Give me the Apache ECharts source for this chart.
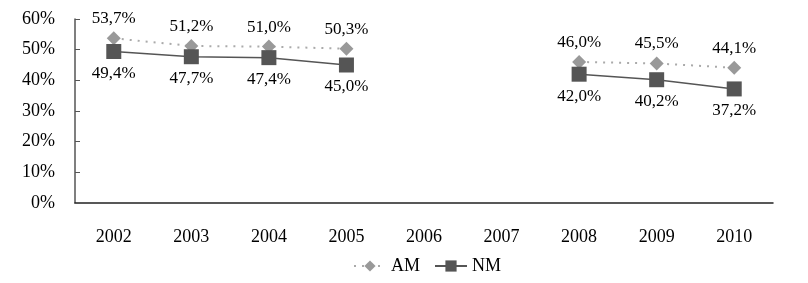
<!DOCTYPE html>
<html><head><meta charset="utf-8">
<script src="https://cdn.jsdelivr.net/npm/echarts@6/dist/echarts.min.js"></script>
<style>html,body{margin:0;padding:0;background:#fff}#c{width:808px;height:283px}</style>
</head><body><div id="c"></div>
<script>
const categories = ['2002','2003','2004','2005','2006','2007','2008','2009','2010'];
const amValues = [53.7, 51.2, 51.0, 50.3, null, null, 46.0, 45.5, 44.1];
const nmValues = [49.4, 47.7, 47.4, 45.0, null, null, 42.0, 40.2, 37.2];
const yTicks = [0, 10, 20, 30, 40, 50, 60];

const font = 'Liberation Serif, Times New Roman, serif';
const fmt = p => p.value == null ? '' : p.value.toFixed(1).replace('.', ',') + '%';
const chart = echarts.init(document.getElementById('c'));
chart.setOption({
  animation: false,
  textStyle: { fontFamily: font },
  grid: { left: 75, right: 35, top: 19, bottom: 80 },
  legend: {
    bottom: 3, left: 348, itemWidth: 32, itemHeight: 14, itemGap: 14,
    textStyle: { fontFamily: font, fontSize: 18, color: '#000' },
    data: ['AM', 'NM']
  },
  xAxis: {
    type: 'category', data: categories, boundaryGap: true,
    axisLine: { lineStyle: { color: '#222', width: 1.5 } },
    axisTick: { inside: true, length: 5, lineStyle: { color: '#222' } },
    axisLabel: { color: '#000', fontSize: 18, fontFamily: font, margin: 25 }
  },
  yAxis: {
    type: 'value', min: yTicks[0], max: yTicks[yTicks.length - 1], interval: 10,
    splitLine: { show: false },
    axisLine: { show: true, lineStyle: { color: '#555', width: 1.5 } },
    axisTick: { show: true, inside: true, length: 5, lineStyle: { color: '#555' } },
    axisLabel: { color: '#000', fontSize: 18, fontFamily: font, margin: 20, formatter: v => v + '%' }
  },
  series: [
    {
      name: 'AM', type: 'line', data: amValues, connectNulls: false,
      symbol: 'diamond', symbolSize: 14,
      itemStyle: { color: '#999999' },
      lineStyle: { color: '#aaaaaa', width: 2, type: [2, 6] },
      label: { show: true, position: 'top', distance: 4, color: '#000', fontSize: 17, fontFamily: font, formatter: fmt }
    },
    {
      name: 'NM', type: 'line', data: nmValues, connectNulls: false,
      symbol: 'rect', symbolSize: 15,
      itemStyle: { color: '#555555' },
      lineStyle: { color: '#555555', width: 1.5 },
      label: { show: true, position: 'bottom', distance: 6, color: '#000', fontSize: 17, fontFamily: font, formatter: fmt }
    }
  ]
});
</script></body></html>
